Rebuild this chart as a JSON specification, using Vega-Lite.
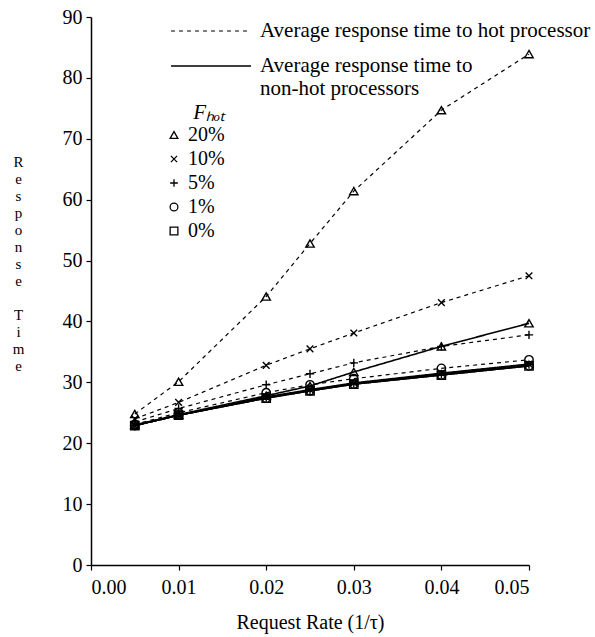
{
  "$schema": "https://vega.github.io/schema/vega-lite/v6.json",
  "width": 438,
  "height": 548,
  "autosize": {"type": "none"},
  "padding": {"left": 91, "top": 17, "right": 66, "bottom": 72},
  "background": "white",
  "config": {
    "font": "Liberation Serif",
    "view": {"stroke": null},
    "axis": {
      "grid": false,
      "domainColor": "black",
      "domainWidth": 1.5,
      "tickColor": "black",
      "tickWidth": 1.2,
      "tickSize": 5,
      "labelFont": "Liberation Serif",
      "labelFontSize": 20,
      "labelColor": "black",
      "titleFont": "Liberation Serif",
      "titleFontSize": 20,
      "titleFontWeight": "normal",
      "titleColor": "black"
    },
    "legend": {
      "labelFont": "Liberation Serif",
      "labelFontSize": 20,
      "labelColor": "black",
      "labelLimit": 0,
      "titleFont": "Liberation Serif",
      "titleColor": "black"
    }
  },
  "data": {
    "values": [
      {"rate": 0.005, "time": 24.8, "fhot": "20%", "kind": "hot"},
      {"rate": 0.01, "time": 30.1, "fhot": "20%", "kind": "hot"},
      {"rate": 0.02, "time": 44.1, "fhot": "20%", "kind": "hot"},
      {"rate": 0.025, "time": 52.8, "fhot": "20%", "kind": "hot"},
      {"rate": 0.03, "time": 61.4, "fhot": "20%", "kind": "hot"},
      {"rate": 0.04, "time": 74.7, "fhot": "20%", "kind": "hot"},
      {"rate": 0.05, "time": 83.9, "fhot": "20%", "kind": "hot"},
      {"rate": 0.005, "time": 23.0, "fhot": "20%", "kind": "nonhot"},
      {"rate": 0.01, "time": 24.7, "fhot": "20%", "kind": "nonhot"},
      {"rate": 0.02, "time": 27.8, "fhot": "20%", "kind": "nonhot"},
      {"rate": 0.025, "time": 29.4, "fhot": "20%", "kind": "nonhot"},
      {"rate": 0.03, "time": 31.7, "fhot": "20%", "kind": "nonhot"},
      {"rate": 0.04, "time": 35.9, "fhot": "20%", "kind": "nonhot"},
      {"rate": 0.05, "time": 39.7, "fhot": "20%", "kind": "nonhot"},
      {"rate": 0.005, "time": 24.0, "fhot": "10%", "kind": "hot"},
      {"rate": 0.01, "time": 26.7, "fhot": "10%", "kind": "hot"},
      {"rate": 0.02, "time": 32.8, "fhot": "10%", "kind": "hot"},
      {"rate": 0.025, "time": 35.5, "fhot": "10%", "kind": "hot"},
      {"rate": 0.03, "time": 38.1, "fhot": "10%", "kind": "hot"},
      {"rate": 0.04, "time": 43.1, "fhot": "10%", "kind": "hot"},
      {"rate": 0.05, "time": 47.5, "fhot": "10%", "kind": "hot"},
      {"rate": 0.005, "time": 22.9, "fhot": "10%", "kind": "nonhot"},
      {"rate": 0.01, "time": 24.6, "fhot": "10%", "kind": "nonhot"},
      {"rate": 0.02, "time": 27.6, "fhot": "10%", "kind": "nonhot"},
      {"rate": 0.025, "time": 28.8, "fhot": "10%", "kind": "nonhot"},
      {"rate": 0.03, "time": 29.9, "fhot": "10%", "kind": "nonhot"},
      {"rate": 0.04, "time": 31.5, "fhot": "10%", "kind": "nonhot"},
      {"rate": 0.05, "time": 33.0, "fhot": "10%", "kind": "nonhot"},
      {"rate": 0.005, "time": 23.5, "fhot": "5%", "kind": "hot"},
      {"rate": 0.01, "time": 25.7, "fhot": "5%", "kind": "hot"},
      {"rate": 0.02, "time": 29.6, "fhot": "5%", "kind": "hot"},
      {"rate": 0.025, "time": 31.4, "fhot": "5%", "kind": "hot"},
      {"rate": 0.03, "time": 33.2, "fhot": "5%", "kind": "hot"},
      {"rate": 0.04, "time": 35.9, "fhot": "5%", "kind": "hot"},
      {"rate": 0.05, "time": 37.8, "fhot": "5%", "kind": "hot"},
      {"rate": 0.005, "time": 22.9, "fhot": "5%", "kind": "nonhot"},
      {"rate": 0.01, "time": 24.6, "fhot": "5%", "kind": "nonhot"},
      {"rate": 0.02, "time": 27.5, "fhot": "5%", "kind": "nonhot"},
      {"rate": 0.025, "time": 28.7, "fhot": "5%", "kind": "nonhot"},
      {"rate": 0.03, "time": 29.8, "fhot": "5%", "kind": "nonhot"},
      {"rate": 0.04, "time": 31.4, "fhot": "5%", "kind": "nonhot"},
      {"rate": 0.05, "time": 32.9, "fhot": "5%", "kind": "nonhot"},
      {"rate": 0.005, "time": 23.1, "fhot": "1%", "kind": "hot"},
      {"rate": 0.01, "time": 25.0, "fhot": "1%", "kind": "hot"},
      {"rate": 0.02, "time": 28.3, "fhot": "1%", "kind": "hot"},
      {"rate": 0.025, "time": 29.6, "fhot": "1%", "kind": "hot"},
      {"rate": 0.03, "time": 30.6, "fhot": "1%", "kind": "hot"},
      {"rate": 0.04, "time": 32.3, "fhot": "1%", "kind": "hot"},
      {"rate": 0.05, "time": 33.7, "fhot": "1%", "kind": "hot"},
      {"rate": 0.005, "time": 22.9, "fhot": "1%", "kind": "nonhot"},
      {"rate": 0.01, "time": 24.6, "fhot": "1%", "kind": "nonhot"},
      {"rate": 0.02, "time": 27.4, "fhot": "1%", "kind": "nonhot"},
      {"rate": 0.025, "time": 28.6, "fhot": "1%", "kind": "nonhot"},
      {"rate": 0.03, "time": 29.7, "fhot": "1%", "kind": "nonhot"},
      {"rate": 0.04, "time": 31.2, "fhot": "1%", "kind": "nonhot"},
      {"rate": 0.05, "time": 32.7, "fhot": "1%", "kind": "nonhot"},
      {"rate": 0.005, "time": 22.9, "fhot": "0%", "kind": "nonhot"},
      {"rate": 0.01, "time": 24.6, "fhot": "0%", "kind": "nonhot"},
      {"rate": 0.02, "time": 27.4, "fhot": "0%", "kind": "nonhot"},
      {"rate": 0.025, "time": 28.6, "fhot": "0%", "kind": "nonhot"},
      {"rate": 0.03, "time": 29.7, "fhot": "0%", "kind": "nonhot"},
      {"rate": 0.04, "time": 31.2, "fhot": "0%", "kind": "nonhot"},
      {"rate": 0.05, "time": 32.7, "fhot": "0%", "kind": "nonhot"}
    ]
  },
  "encoding": {
    "x": {
      "field": "rate",
      "type": "quantitative",
      "scale": {"domain": [0, 0.05], "nice": false},
      "axis": {
        "values": [0, 0.01, 0.02, 0.03, 0.04, 0.05],
        "format": ".2f",
        "title": "Request Rate (1/τ)",
        "labelPadding": 7,
        "titlePadding": 15
      }
    },
    "y": {
      "field": "time",
      "type": "quantitative",
      "scale": {"domain": [0, 90], "nice": false},
      "axis": {
        "values": [0, 10, 20, 30, 40, 50, 60, 70, 80, 90],
        "labelPadding": 4,
        "title": ["R", "e", "s", "p", "o", "n", "s", "e", "\u2800", "T", "i", "m", "e"],
        "titleFontSize": 15,
        "titleAngle": 0,
        "titleAlign": "center",
        "titleBaseline": "top",
        "titleX": -73,
        "titleY": 137,
        "titleLineHeight": 17
      }
    }
  },
  "layer": [
    {
      "mark": {"type": "line", "color": "black"},
      "encoding": {
        "detail": {"field": "fhot"},
        "strokeWidth": {
          "field": "kind",
          "type": "nominal",
          "scale": {"domain": ["hot", "nonhot"], "range": [1.2, 1.6]},
          "legend": null
        },
        "strokeDash": {
          "field": "kind",
          "type": "nominal",
          "scale": {"domain": ["hot", "nonhot"], "range": [[4, 4], [1, 0]]},
          "legend": {
            "title": null,
            "orient": "none",
            "legendX": 109,
            "legendY": 3,
            "symbolType": "M-4,0L4,0",
            "symbolSize": 400,
            "symbolStrokeWidth": 1,
            "symbolStrokeColor": "black",
            "labelFontSize": 21,
            "labelOffset": 38,
            "rowPadding": 14,
            "labelExpr": "datum.value == 'hot' ? 'Average response time to hot processor' : ['Average response time to', 'non-hot processors']"
          }
        }
      }
    },
    {
      "mark": {"type": "point", "filled": false, "color": "black", "strokeWidth": 1.4, "size": 70, "opacity": 1},
      "encoding": {
        "shape": {
          "field": "fhot",
          "type": "nominal",
          "scale": {
            "domain": ["20%", "10%", "5%", "1%", "0%"],
            "range": [
              "triangle-up",
              "M-0.8,-0.8L0.8,0.8M-0.8,0.8L0.8,-0.8",
              "M-1,0L1,0M0,-1L0,1",
              "circle",
              "square"
            ]
          },
          "legend": {
            "title": "Fₕₒₜ",
            "titleFontStyle": "italic",
            "titleFontWeight": "normal",
            "titleFontSize": 21,
            "titleAnchor": "end",
            "titlePadding": 2,
            "orient": "none",
            "legendX": 73,
            "legendY": 85,
            "symbolSize": 60,
            "symbolStrokeColor": "black",
            "symbolStrokeWidth": 1.3,
            "symbolFillColor": "transparent",
            "labelOffset": 4,
            "rowPadding": 4
          }
        }
      }
    }
  ]
}
